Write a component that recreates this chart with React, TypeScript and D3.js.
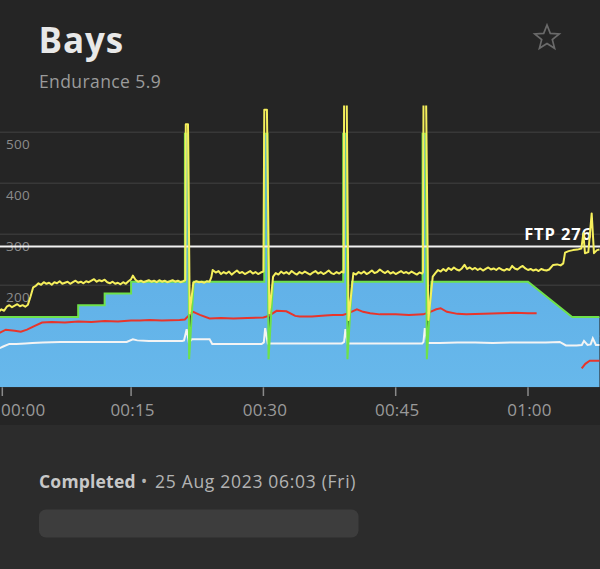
import * as d3 from "d3";
import { useMemo } from "react";

const WIDTH = 600;
const HEIGHT = 569;
const FONT = "'Open Sans', 'DejaVu Sans', sans-serif";

const TITLE = "Bays";
const SUBTITLE = "Endurance 5.9";
const FTP = 276;

const yTicks = [100, 200, 300, 400, 500];
const xTicks = [0, 15, 30, 45, 60];
const xTickLabels = ["00:00", "00:15", "00:30", "00:45", "01:00"];

// [minute, watts]
const targetPower: [number, number][] = [
  [0, 138], [9, 138], [9, 161], [12, 161], [12, 184], [15, 184], [15, 207],
  [21.1, 207], [21.1, 497], [21.46, 497], [21.58, 55], [22.1, 207],
  [30.1, 207], [30.1, 497], [30.46, 497], [30.58, 55], [31.1, 207],
  [39.05, 207], [39.05, 497], [39.41, 497], [39.53, 55], [40.05, 207],
  [48.05, 207], [48.05, 497], [48.41, 497], [48.53, 55], [49.05, 207],
  [60, 207], [65, 138], [68.1, 138],
];

const power: [number, number][] = [
  [0, 148], [0.3, 153], [0.6, 150], [0.9, 158], [1.2, 161], [1.5, 157], [1.8, 160], [2.1, 163],
  [2.4, 159], [2.7, 161], [3.0, 158], [3.3, 162], [3.6, 178], [3.9, 196], [4.2, 199], [4.5, 204],
  [4.8, 201], [5.1, 206], [5.4, 203], [5.7, 205], [6.0, 201], [6.3, 206], [6.6, 204], [6.9, 208],
  [7.2, 203], [7.5, 205], [7.8, 207], [8.1, 203], [8.4, 206], [8.7, 209], [9.0, 205], [9.3, 207],
  [9.6, 204], [9.9, 208], [10.2, 206], [10.5, 209], [10.8, 212], [11.1, 207], [11.4, 210], [11.7, 208],
  [12.0, 211], [12.3, 206], [12.6, 204], [12.9, 207], [13.2, 203], [13.5, 205], [13.8, 202], [14.1, 206],
  [14.4, 203], [14.7, 208], [15.0, 212], [15.2, 219], [15.5, 211], [15.8, 207], [16.1, 209], [16.4, 206],
  [16.7, 208], [17.0, 210], [17.3, 207], [17.6, 209], [17.9, 206], [18.2, 210], [18.5, 207], [18.8, 209],
  [19.1, 206], [19.4, 208], [19.7, 210], [20.0, 207], [20.3, 209], [20.6, 206], [20.9, 208], [21.15, 210],
  [21.2, 516], [21.45, 516], [21.65, 145], [22.05, 205], [22.4, 208], [22.7, 206], [23.0, 207], [23.3, 205],
  [23.6, 208], [23.9, 207], [24.1, 216], [24.25, 230], [24.6, 225], [24.9, 228], [25.2, 222], [25.5, 226],
  [25.8, 223], [26.1, 227], [26.4, 221], [26.7, 225], [27.0, 229], [27.3, 224], [27.6, 226], [27.9, 222],
  [28.2, 225], [28.5, 228], [28.8, 223], [29.1, 226], [29.4, 222], [29.7, 225], [30.0, 227],
  [30.1, 544], [30.4, 544], [30.68, 145], [31.1, 217], [31.4, 224], [31.7, 221], [32.0, 227], [32.3, 223],
  [32.6, 226], [32.9, 222], [33.2, 228], [33.5, 224], [33.8, 221], [34.1, 226], [34.4, 223], [34.7, 227],
  [35.0, 224], [35.3, 221], [35.6, 225], [35.9, 228], [36.2, 223], [36.5, 226], [36.8, 222], [37.1, 225],
  [37.4, 229], [37.7, 224], [38.0, 222], [38.3, 226], [38.6, 223], [38.9, 227], [39.1, 225],
  [39.15, 560], [39.45, 560], [39.65, 132], [40.2, 224], [40.5, 221], [40.8, 226], [41.1, 223], [41.4, 227],
  [41.7, 222], [42.0, 225], [42.3, 229], [42.6, 224], [42.9, 226], [43.2, 231], [43.5, 227], [43.8, 224],
  [44.1, 228], [44.4, 223], [44.7, 226], [45.0, 222], [45.3, 225], [45.6, 228], [45.9, 224], [46.2, 226],
  [46.5, 223], [46.8, 227], [47.1, 224], [47.4, 221], [47.7, 225], [48.0, 223], [48.1, 226],
  [48.15, 560], [48.45, 560], [48.7, 132], [49.2, 217], [49.5, 224], [49.8, 230], [50.1, 227], [50.4, 232],
  [50.7, 228], [51.0, 234], [51.3, 230], [51.6, 235], [51.9, 231], [52.2, 229], [52.5, 233], [52.8, 240],
  [53.1, 232], [53.4, 235], [53.7, 231], [54.0, 234], [54.3, 230], [54.6, 233], [54.9, 229], [55.2, 232],
  [55.5, 235], [55.8, 231], [56.1, 233], [56.4, 230], [56.7, 234], [57.0, 231], [57.3, 229], [57.6, 232],
  [57.9, 230], [58.2, 238], [58.5, 233], [58.8, 231], [59.1, 235], [59.4, 238], [59.7, 233], [60.0, 230],
  [60.3, 232], [60.6, 229], [60.9, 231], [61.2, 228], [61.5, 232], [61.8, 230], [62.1, 229], [62.4, 231],
  [62.85, 240], [63.3, 241], [63.7, 239], [64.0, 243], [64.2, 264], [64.6, 267], [65.1, 269], [65.6, 270],
  [66.05, 272], [66.27, 302], [66.46, 263], [66.84, 265], [67.22, 341], [67.48, 263], [67.82, 269], [68.1, 270],
];

// red series, null = gap
const heartRate: [number, number | null][] = [
  [0, 106], [0.8, 113], [1.8, 111], [2.5, 109], [3.2, 113], [3.9, 119], [4.9, 127], [6, 128],
  [7.5, 127], [9, 129], [10.5, 128], [12, 130], [13.5, 129], [15, 131], [16, 131], [17.1, 132],
  [18.5, 131], [20.5, 132], [21.1, 133], [21.5, 140], [22.05, 148], [22.8, 142], [23.9, 135], [25.2, 136],
  [26.6, 135], [28.2, 136], [30.0, 137], [30.6, 140], [31.5, 150], [32.6, 149], [33.6, 140], [34.1, 139],
  [35.5, 139], [37.0, 141], [37.9, 142], [39.0, 142], [39.6, 145], [40.6, 153], [41.3, 148], [42.1, 145],
  [43.2, 143], [45, 143], [46.5, 142], [48.1, 143], [48.8, 147], [49.6, 153], [50.1, 155], [50.8, 148],
  [52, 144], [53, 143], [55, 144], [56.8, 145], [58.5, 146], [60, 145], [60.98, 145],
  [63, null],
  [66.09, 37], [66.5, 46], [67.0, 52], [68.1, 52],
];

// white series
const cadence: [number, number][] = [
  [0, 76], [0.5, 80], [1.2, 85], [2.0, 85], [3.0, 86], [3.8, 87], [5.0, 88], [7.0, 89],
  [9.0, 89], [11.0, 89], [13.0, 89], [14.5, 89], [15.2, 94], [15.7, 92], [17.0, 91], [19.0, 91],
  [20.8, 91], [21.0, 92], [21.3, 114], [21.55, 88], [21.9, 94], [22.8, 94], [23.9, 94], [24.2, 85],
  [26, 85], [28, 85], [29.8, 85], [30.05, 88], [30.2, 116], [30.5, 86], [31.5, 86], [33, 86],
  [35, 86], [37, 86], [38.9, 86], [39.15, 89], [39.3, 114], [39.55, 86], [41, 86], [43, 86],
  [45, 86], [47, 86], [48.0, 86], [48.15, 89], [48.3, 116], [48.6, 87], [50, 87], [52, 88],
  [54, 88], [56, 87], [58, 88], [60, 88], [62, 88], [63.6, 89], [64.3, 82], [65.5, 82],
  [66.1, 83], [66.35, 91], [66.75, 83], [67.1, 84], [67.35, 96], [67.7, 83], [68.1, 83],
];

export default function App() {
  const x = useMemo(
    () => d3.scaleLinear().domain([0, 68]).range([-1.2, -1.2 + 68 * 8.82]),
    []
  );
  const y = useMemo(
    () => d3.scaleLinear().domain([0, 500]).range([387.3, 132.3]),
    []
  );

  const area = d3
    .area<[number, number]>()
    .x((d) => x(d[0]))
    .y0(y(0))
    .y1((d) => y(d[1]));
  const line = d3
    .line<[number, number | null]>()
    .defined((d) => d[1] != null)
    .x((d) => x(d[0]))
    .y((d) => y(d[1] as number));

  const starPts = d3.range(10).map((i) => {
    const a = (i * Math.PI) / 5 - Math.PI / 2;
    const r = i % 2 === 0 ? 12.9 : 5.6;
    return [547 + r * Math.cos(a), 37.9 + r * Math.sin(a)].join(",");
  });

  return (
    <svg
      width={WIDTH}
      height={HEIGHT}
      style={{ position: "absolute", left: 0, top: 0, display: "block" }}
      fontFamily={FONT}
    >
      <defs>
        <clipPath id="plot">
          <rect x={0} y={105.5} width={WIDTH} height={y(0) - 105.5} />
        </clipPath>
        <linearGradient id="blue" x1="0" y1="0" x2="0" y2="1">
          <stop offset="0%" stopColor="#5aa8e4" />
          <stop offset="100%" stopColor="#67b8eb" />
        </linearGradient>
      </defs>
      <rect width={WIDTH} height={HEIGHT} fill="#252525" />
      <rect y={425} width={WIDTH} height={HEIGHT - 425} fill="#2c2c2c" />

      <text x={38.5} y={52.7} fontSize={35} fontWeight={700} fill="#e8e8e8" letterSpacing={0.9}>
        {TITLE}
      </text>
      <text x={39} y={88.3} fontSize={17.5} fill="#9b9b9b" letterSpacing={0.4}>
        {SUBTITLE}
      </text>
      <polygon
        points={starPts.join(" ")}
        fill="none"
        stroke="#6a6a6a"
        strokeWidth={1.7}
        strokeLinejoin="miter"
      />

      {/* grid + y labels */}
      {yTicks.map((t) => (
        <g key={t}>
          <line x1={0} x2={WIDTH} y1={y(t)} y2={y(t)} stroke="#383838" strokeWidth={1.5} />
          <text x={6} y={y(t) + 17} fontSize={13.5} fill="#8c8c8c" letterSpacing={0.3}>
            {t}
          </text>
        </g>
      ))}

      <g clipPath="url(#plot)">
        <path d={area(targetPower) || ""} fill="url(#blue)" />
        <path d={line(heartRate) || ""} fill="none" stroke="#e8352b" strokeWidth={2} />
        <path d={line(cadence) || ""} fill="none" stroke="#f4f4f4" strokeWidth={2} />
        <path d={line(targetPower) || ""} fill="none" stroke="#6ee14a" strokeWidth={2} />
        <line x1={0} x2={WIDTH} y1={y(FTP)} y2={y(FTP)} stroke="#f2f2f2" strokeWidth={2} />
        <text
          x={592}
          y={240}
          textAnchor="end"
          fontSize={16.5}
          fontWeight={700}
          fill="#ffffff"
          letterSpacing={0.9}
        >
          {`FTP ${FTP}`}
        </text>
        <path
          d={line(power) || ""}
          fill="none"
          stroke="#f5ef5c"
          strokeWidth={2}
          strokeLinejoin="round"
        />
      </g>

      {/* x axis */}
      {xTicks.map((t, i) => {
        const tx = Math.max(x(t), 2.3);
        return (
          <g key={t}>
            <line x1={tx} x2={tx} y1={y(0)} y2={396} stroke="#8a8a8a" strokeWidth={1.5} />
            <text
              x={i === 0 ? 1 : x(t) + 1.5}
              y={415.7}
              fontSize={17}
              fill="#9a9a9a"
              textAnchor={i === 0 ? "start" : "middle"}
              letterSpacing={0.2}
            >
              {xTickLabels[i]}
            </text>
          </g>
        );
      })}

      <text x={39} y={488.3} fontSize={17.5} fill="#b3b3b3">
        <tspan fontWeight={700} fill="#c8c8c8" letterSpacing={0.2}>Completed</tspan>
        <tspan x={144} textAnchor="middle">•</tspan>
        <tspan x={155} letterSpacing={0.7}>25 Aug 2023 06:03 (Fri)</tspan>
      </text>
      <rect x={39} y={509.5} width={319.5} height={28} rx={7} fill="#3d3d3d" />
    </svg>
  );
}
